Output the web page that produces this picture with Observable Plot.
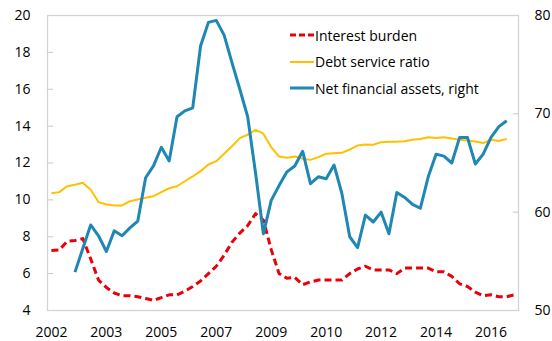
<!DOCTYPE html>
<html>
<head>
<meta charset="utf-8">
<script src="https://cdn.jsdelivr.net/npm/d3@7"></script>
<script src="https://cdn.jsdelivr.net/npm/@observablehq/plot@0.6"></script>
<style>
  html, body { margin: 0; padding: 0; background: #fff; }
  #wrap { position: relative; width: 552px; height: 341px; font-family: "Open Sans", sans-serif; }
  #legend { position: absolute; left: 290px; top: 22px; font-size: 14px; color: #000; }
  #legend .row { display: flex; align-items: center; height: 26.5px; white-space: nowrap; }
  #legend svg { margin-right: 1px; }
</style>
</head>
<body>
<div id="wrap"><div id="chart"></div><div id="legend"></div></div>
<script>
// Quarterly observations, 2002Q1 .. 2016Q4 (60 quarters)
const xTickLabels = ["2002", "2003", "2005", "2007", "2009", "2010", "2012", "2014", "2016"];
const xTickStep = 7; // one label every 7 quarters
const leftTicks = [4, 6, 8, 10, 12, 14, 16, 18, 20];
const rightTicks = [50, 60, 70, 80];

const interestBurden = [
  7.25, 7.28, 7.75, 7.8, 7.9, 6.8, 5.65, 5.25, 4.95, 4.8,
  4.8, 4.75, 4.65, 4.55, 4.7, 4.85, 4.85, 5.05, 5.3, 5.6,
  6.0, 6.4, 7.0, 7.7, 8.2, 8.6, 9.25, 8.9, 7.3, 6.0,
  5.75, 5.8, 5.4, 5.55, 5.65, 5.65, 5.65, 5.65, 6.0, 6.25,
  6.4, 6.2, 6.2, 6.2, 6.0, 6.3, 6.3, 6.3, 6.3, 6.1,
  6.1, 5.85, 5.45, 5.3, 5.0, 4.8, 4.85, 4.75, 4.75, 4.85
];
const debtServiceRatio = [
  10.36, 10.42, 10.74, 10.82, 10.93, 10.55, 9.88, 9.75, 9.7, 9.7,
  9.93, 10.02, 10.11, 10.2, 10.42, 10.63, 10.74, 11.01, 11.27, 11.56,
  11.92, 12.1, 12.5, 12.91, 13.35, 13.53, 13.8, 13.59, 12.86, 12.35,
  12.28, 12.35, 12.23, 12.17, 12.32, 12.5, 12.53, 12.55, 12.73, 12.95,
  13.0, 12.99, 13.13, 13.15, 13.15, 13.18, 13.26, 13.3, 13.4, 13.35,
  13.4, 13.33, 13.26, 13.22, 13.17, 13.08, 13.26, 13.19, 13.31, null
];
const netFinancialAssets = [
  null, null, null, 53.9, 56.3, 58.7, 57.6, 56.0, 58.1, 57.6,
  58.4, 59.1, 63.5, 64.7, 66.6, 65.2, 69.7, 70.3, 70.6, 76.9,
  79.3, 79.5, 78.0, 75.2, 72.5, 69.7, 64.0, 57.8, 61.2, 62.7,
  64.1, 64.7, 66.2, 62.9, 63.6, 63.4, 64.8, 61.9, 57.5, 56.4,
  59.7, 59.0, 60.0, 57.8, 62.0, 61.5, 60.8, 60.4, 63.6, 65.9,
  65.7, 65.0, 67.6, 67.6, 64.9, 65.9, 67.6, 68.7, 69.3, null
];

const series = [
  {name: "Interest burden", values: interestBurden, color: "#e8000b", width: 3, dash: "7,4", right: false},
  {name: "Debt service ratio", values: debtServiceRatio, color: "#ffc000", width: 2, dash: null, right: false},
  {name: "Net financial assets, right", values: netFinancialAssets, color: "#1f87b3", width: 3, dash: null, right: true}
];

// right axis (50..80) mapped onto left axis domain (4..20)
const L0 = leftTicks[0], L1 = leftTicks[leftTicks.length - 1];
const R0 = rightTicks[0], R1 = rightTicks[rightTicks.length - 1];
const toLeft = v => L0 + (v - R0) * (L1 - L0) / (R1 - R0);
const toRight = v => R0 + (v - L0) * (R1 - R0) / (L1 - L0);

const n = interestBurden.length;
const xTicks = xTickLabels.map((_, k) => k * xTickStep);

const lineMarks = series.map(s => {
  const rows = s.values.map((v, i) => ({i, v: v == null ? null : (s.right ? toLeft(v) : v)}));
  return Plot.lineY(rows, {
    x: "i", y: "v", stroke: s.color, strokeWidth: s.width,
    strokeDasharray: s.dash || undefined, strokeLinejoin: "round", strokeLinecap: "butt"
  });
});

const chart = Plot.plot({
  width: 552,
  height: 341,
  marginLeft: 47,
  marginRight: 34,
  marginTop: 15,
  marginBottom: 31,
  style: {fontSize: "14px", fontFamily: "'Open Sans', sans-serif", color: "#000", background: "#fff"},
  x: {domain: [-0.5, n - 0.5]},
  y: {domain: [L0, L1]},
  marks: [
    Plot.frame({stroke: "#d4d4d4", strokeWidth: 1.3}),
    // inner tick marks, left
    Plot.axisY(leftTicks.slice(1, -1), {anchor: "left", tickSize: 6, dx: 6, text: null, stroke: "#c8c8c8", label: null}),
    // left labels
    Plot.axisY(leftTicks, {anchor: "left", tickSize: 0, tickPadding: 17, label: null, fill: "#000"}),
    // inner tick marks, right
    Plot.axisY(rightTicks.slice(1, -1).map(toLeft), {anchor: "right", tickSize: 6, dx: -6, text: null, stroke: "#c8c8c8", label: null}),
    // right labels
    Plot.axisY(rightTicks.map(toLeft), {anchor: "right", tickSize: 0, tickPadding: 16, label: null, fill: "#000",
      tickFormat: d => String(Math.round(toRight(d)))}),
    // x labels
    Plot.axisX(xTicks, {anchor: "bottom", tickSize: 0, tickPadding: 17, label: null, fill: "#000",
      tickFormat: d => xTickLabels[d / xTickStep]}),
    ...lineMarks
  ]
});
document.getElementById("chart").appendChild(chart);

// legend
const legend = document.getElementById("legend");
for (const s of series) {
  const row = document.createElement("div");
  row.className = "row";
  const dash = s.dash ? ` stroke-dasharray="6,3"` : "";
  row.innerHTML = `<svg width="24" height="10"><line x1="0" y1="5" x2="24" y2="5" stroke="${s.color}" stroke-width="${s.width}"${dash}/></svg><span>${s.name}</span>`;
  legend.appendChild(row);
}
</script>
</body>
</html>
